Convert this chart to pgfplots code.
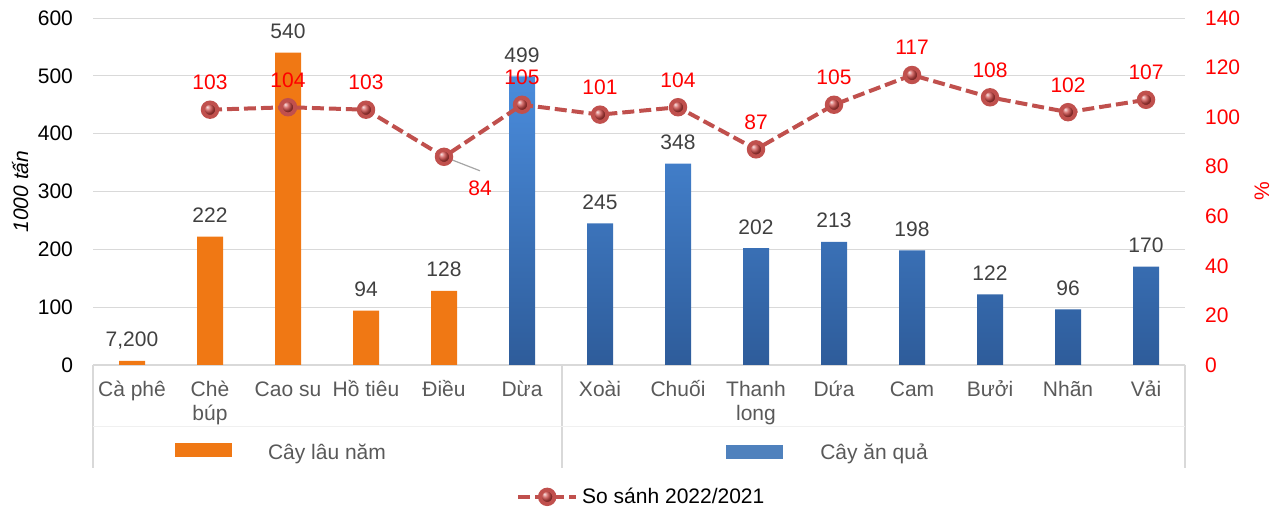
\documentclass[border=0pt]{standalone}
\usepackage{pgfplots}
\pgfplotsset{compat=1.18}
\usepackage{pgfplotstable}
\usepackage{fontspec}
\setmainfont{Liberation Sans}
\definecolor{orangebar}{HTML}{F07814}
\definecolor{bluetop}{HTML}{4A8CDC}
\definecolor{bluebot}{HTML}{2E5C9A}
\definecolor{blueleg}{HTML}{4F81BD}
\definecolor{lineRed}{HTML}{C0504D}
\definecolor{labgray}{HTML}{404040}
\definecolor{tickgray}{HTML}{595959}
\definecolor{gridgray}{HTML}{D9D9D9}
\definecolor{pctred}{HTML}{FF0000}
\newcommand\two[2]{\begin{tabular}[t]{@{}c@{}}#1\\#2\end{tabular}}

\pgfplotstableread{
x y lab
0 7.2 7,200
1 222 222
2 540 540
3 94 94
4 128 128
}\orangetab
\pgfplotstableread{
x y lab
5 499 499
6 245 245
7 348 348
8 202 202
9 213 213
10 198 198
11 122 122
12 96 96
13 170 170
}\bluetab
\pgfplotstableread{
x y dx dy
1 103 0 10
2 104 0 10
3 103 0 10
4 84 18 -19.5
5 105 0 10
6 101 0 10
7 104 0 10
8 87 0 10
9 105 0 10
10 117 0 10
11 108 0 10
12 102 0 10
13 107 0 10
}\linetab

\begin{document}
\begin{tikzpicture}
\useasboundingbox (0,0) rectangle (641.5pt,256pt);
\begin{axis}[
  at={(46.5pt,73.5pt)}, anchor=south west,
  scale only axis, width=546pt, height=173.5pt,
  xmin=-0.5, xmax=13.5, ymin=0, ymax=600,
  ytick={0,100,...,600},
  xtick={0,...,13},
  xticklabels={Cà phê, \two{Chè}{búp}, Cao su, Hồ tiêu, Điều, Dừa, Xoài, Chuối, \two{Thanh}{long}, Dứa, Cam, Bưởi, Nhãn, Vải},
  /pgf/number format/assume math mode=true,
  font=\fontsize{10.5}{12}\selectfont,
  xticklabel style={text=tickgray, anchor=base, yshift=-16pt, font=\fontsize{10.5}{12}\selectfont},
  yticklabel style={text=black, xshift=-6.5pt},
  major tick length=0pt,
  axis x line*=bottom, axis y line*=left,
  y axis line style={draw=none},
  x axis line style={draw=gridgray, line width=0.9pt},
  ymajorgrids, grid style={draw=gridgray, line width=0.5pt},
  ylabel={\textit{1000 tấn}},
  ylabel style={at={(axis description cs:-0.0668,0.5)}, anchor=center, font=\fontsize{10.5}{12}\selectfont},
  clip=false,
  nodes near coords={\pgfplotspointmeta},
  point meta=explicit symbolic,
  every node near coord/.style={text=labgray, anchor=base, yshift=7pt, font=\fontsize{10.5}{12}\selectfont},
]
\addplot[ybar, bar width=13pt, bar shift=0pt, fill=orangebar, draw=none] table[x=x, y=y, meta=lab] {\orangetab};
\addplot[ybar, bar width=13pt, bar shift=0pt, draw=none, top color=bluetop, bottom color=bluebot] table[x=x, y=y, meta=lab] {\bluetab};
\end{axis}
\begin{axis}[
  at={(46.5pt,73.5pt)}, anchor=south west,
  scale only axis, width=546pt, height=173.5pt,
  xmin=-0.5, xmax=13.5, ymin=0, ymax=140,
  ytick={0,20,...,140},
  /pgf/number format/assume math mode=true,
  axis x line=none, axis y line*=right,
  y axis line style={draw=none},
  major tick length=0pt,
  yticklabel style={text=pctred, xshift=6.5pt, font=\fontsize{10.5}{12}\selectfont},
  ylabel={\%},
  ylabel style={at={(axis description cs:1.0705,0.5)}, anchor=center, text=pctred, font=\fontsize{10.5}{12}\selectfont},
  clip=false,
  legend style={at={(0.503,-0.380)}, anchor=center, draw=none, fill=none, font=\fontsize{10.5}{12}\selectfont, legend cell align=left},
  legend image code/.code={\draw[mark repeat=2,mark phase=2,#1] plot coordinates {(0pt,0pt) (14.5pt,0pt) (29pt,0pt)};},
]
\addplot[color=lineRed, line width=2pt, dash pattern=on 6pt off 2.5pt,
  mark=ball, mark size=3.6pt, mark options={ball color=lineRed!85!red, solid},
  nodes near coords={\pgfmathprintnumber{\pgfplotspointmeta}},
  point meta=y,
  visualization depends on={\thisrow{dx}\as\dx},
  visualization depends on={\thisrow{dy}\as\dy},
  every node near coord/.style={text=pctred, anchor=base, xshift=\dx pt, yshift=\dy pt, font=\fontsize{10.5}{12}\selectfont},
] table[x=x, y=y] {\linetab};
\addlegendentry{So sánh 2022/2021}
\draw[gray!70, line width=0.6pt] (axis cs:4,84) -- ++(18pt,-7pt);
\end{axis}
% category box
\draw[gridgray, line width=0.9pt] (46.5pt,73.5pt) -- (46.5pt,22pt);
\draw[gridgray, line width=0.9pt] (281pt,73.5pt) -- (281pt,22pt);
\draw[gridgray, line width=0.9pt] (592.5pt,73.5pt) -- (592.5pt,22pt);
\draw[gridgray!40, line width=0.5pt] (46.5pt,42.5pt) -- (592.5pt,42.5pt);
% group legends
\fill[orangebar] (87.5pt,27.5pt) rectangle (116pt,34.5pt);
\node[anchor=base, text=tickgray, font=\fontsize{10.5}{12}\selectfont] at (163.5pt,26pt) {Cây lâu năm};
\fill[blueleg] (363pt,26.5pt) rectangle (391.5pt,33.5pt);
\node[anchor=base, text=tickgray, font=\fontsize{10.5}{12}\selectfont] at (437pt,26pt) {Cây ăn quả};
\end{tikzpicture}
\end{document}
